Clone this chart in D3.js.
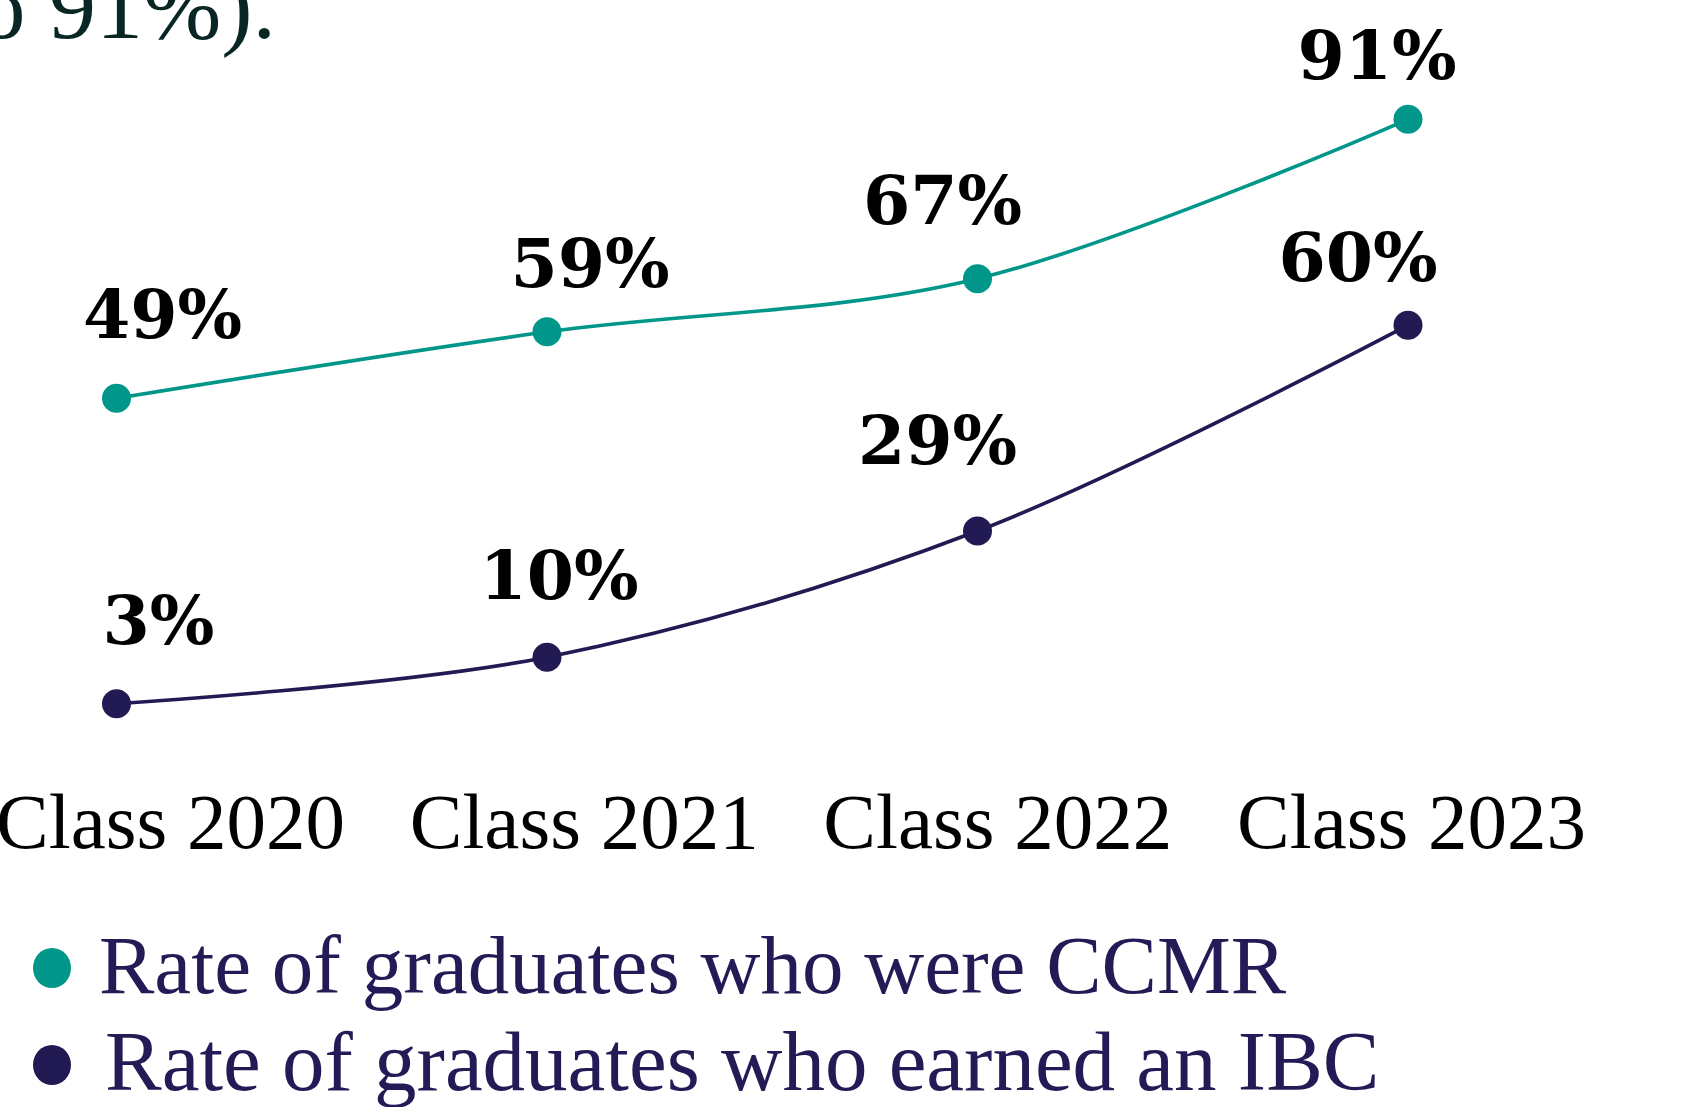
<!DOCTYPE html>
<html>
<head>
<meta charset="utf-8">
<script src="https://cdn.jsdelivr.net/npm/d3@7"></script>
<style>
	html, body { margin: 0; padding: 0; background: #ffffff; overflow: hidden; }
	svg { display: block; }
</style>
</head>
<body>
<svg id="chart"></svg>
<script>
"use strict";

var classes = ['Class 2020', 'Class 2021', 'Class 2022', 'Class 2023'];
var ccmrRates = [49, 59, 67, 91];
var ibcRates = [3, 10, 29, 60];
var seriesNames = ['Rate of graduates who were CCMR', 'Rate of graduates who earned an IBC'];
var introTail = 'to 91%).';

(function() {

	var width = 1692,
		height = 1107;

	var colors = {
		ccmr: '#00968a',
		ibc: '#221a52',
		legendText: '#241a56',
		intro: '#072624'
	};

	//label nudges relative to each dot, [dx, dy] in px
	var nudge = {
		ccmr: [[46, -60], [43, -45], [-35, -55], [-31, -40]],
		ibc: [[42, -60], [12, -58], [-40, -67], [-50, -44]]
	};

	var svg = d3.select('#chart')
		.attr('width', width)
		.attr('height', height);

	var x = d3.scalePoint()
		.domain(classes)
		.range([116.5, 1408]);

	//category labels sit on their own slightly tighter grid
	var xLabel = d3.scalePoint()
		.domain(classes)
		.range([170, 1411]);

	var y = d3.scaleLinear()
		.domain([0, 100])
		.range([723.6, 59.6]);

	//cropped sentence from the text above the chart
	svg.append('text')
		.attr('x', 276)
		.attr('y', 38)
		.attr('text-anchor', 'end')
		.style('font-family', '"Liberation Serif", serif')
		.style('font-size', '94px')
		.style('fill', colors.intro)
		.text(introTail);

	var series = [
		{ key: 'ccmr', values: ccmrRates, color: colors.ccmr },
		{ key: 'ibc', values: ibcRates, color: colors.ibc }
	];

	var line = d3.line()
		.x(function(d, i) { return x(classes[i]); })
		.y(function(d) { return y(d); })
		.curve(d3.curveCatmullRom.alpha(0.5));

	series.forEach(function(s) {

		var g = svg.append('g').attr('class', 'series ' + s.key);

		g.append('path')
			.attr('d', line(s.values))
			.style('fill', 'none')
			.style('stroke', s.color)
			.style('stroke-width', 3.6);

		g.selectAll('circle')
			.data(s.values)
			.enter().append('circle')
			.attr('cx', function(d, i) { return x(classes[i]); })
			.attr('cy', function(d) { return y(d); })
			.attr('r', 14.5)
			.style('fill', s.color);

		g.selectAll('text')
			.data(s.values)
			.enter().append('text')
			.attr('x', function(d, i) { return x(classes[i]) + nudge[s.key][i][0]; })
			.attr('y', function(d, i) { return y(d) + nudge[s.key][i][1]; })
			.attr('text-anchor', 'middle')
			.style('font-family', '"DejaVu Serif", serif')
			.style('font-weight', 'bold')
			.style('font-size', '68px')
			.style('fill', '#000000')
			.text(function(d) { return d + '%'; });
	});

	//category axis, no ticks or domain line
	var axis = svg.append('g')
		.attr('transform', 'translate(0,848)')
		.call(d3.axisBottom(xLabel).tickSize(0));

	axis.select('.domain').remove();
	axis.selectAll('text')
		.attr('y', 0)
		.attr('dy', 0)
		.style('font-family', '"Liberation Serif", serif')
		.style('font-size', '79px')
		.style('fill', '#000000');

	//legend
	var legend = svg.append('g').attr('class', 'legend');
	var legendRows = [
		{ name: seriesNames[0], color: colors.ccmr, textX: 99, y: 993, size: 83 },
		{ name: seriesNames[1], color: colors.ibc, textX: 105, y: 1090, size: 85 }
	];

	legendRows.forEach(function(r) {
		legend.append('ellipse')
			.attr('cx', 52)
			.attr('cy', r.y - 25)
			.attr('rx', 19)
			.attr('ry', 20)
			.style('fill', r.color);

		legend.append('text')
			.attr('x', r.textX)
			.attr('y', r.y)
			.style('font-family', '"Liberation Serif", serif')
			.style('font-size', r.size + 'px')
			.style('fill', colors.legendText)
			.text(r.name);
	});

})();
</script>
</body>
</html>
